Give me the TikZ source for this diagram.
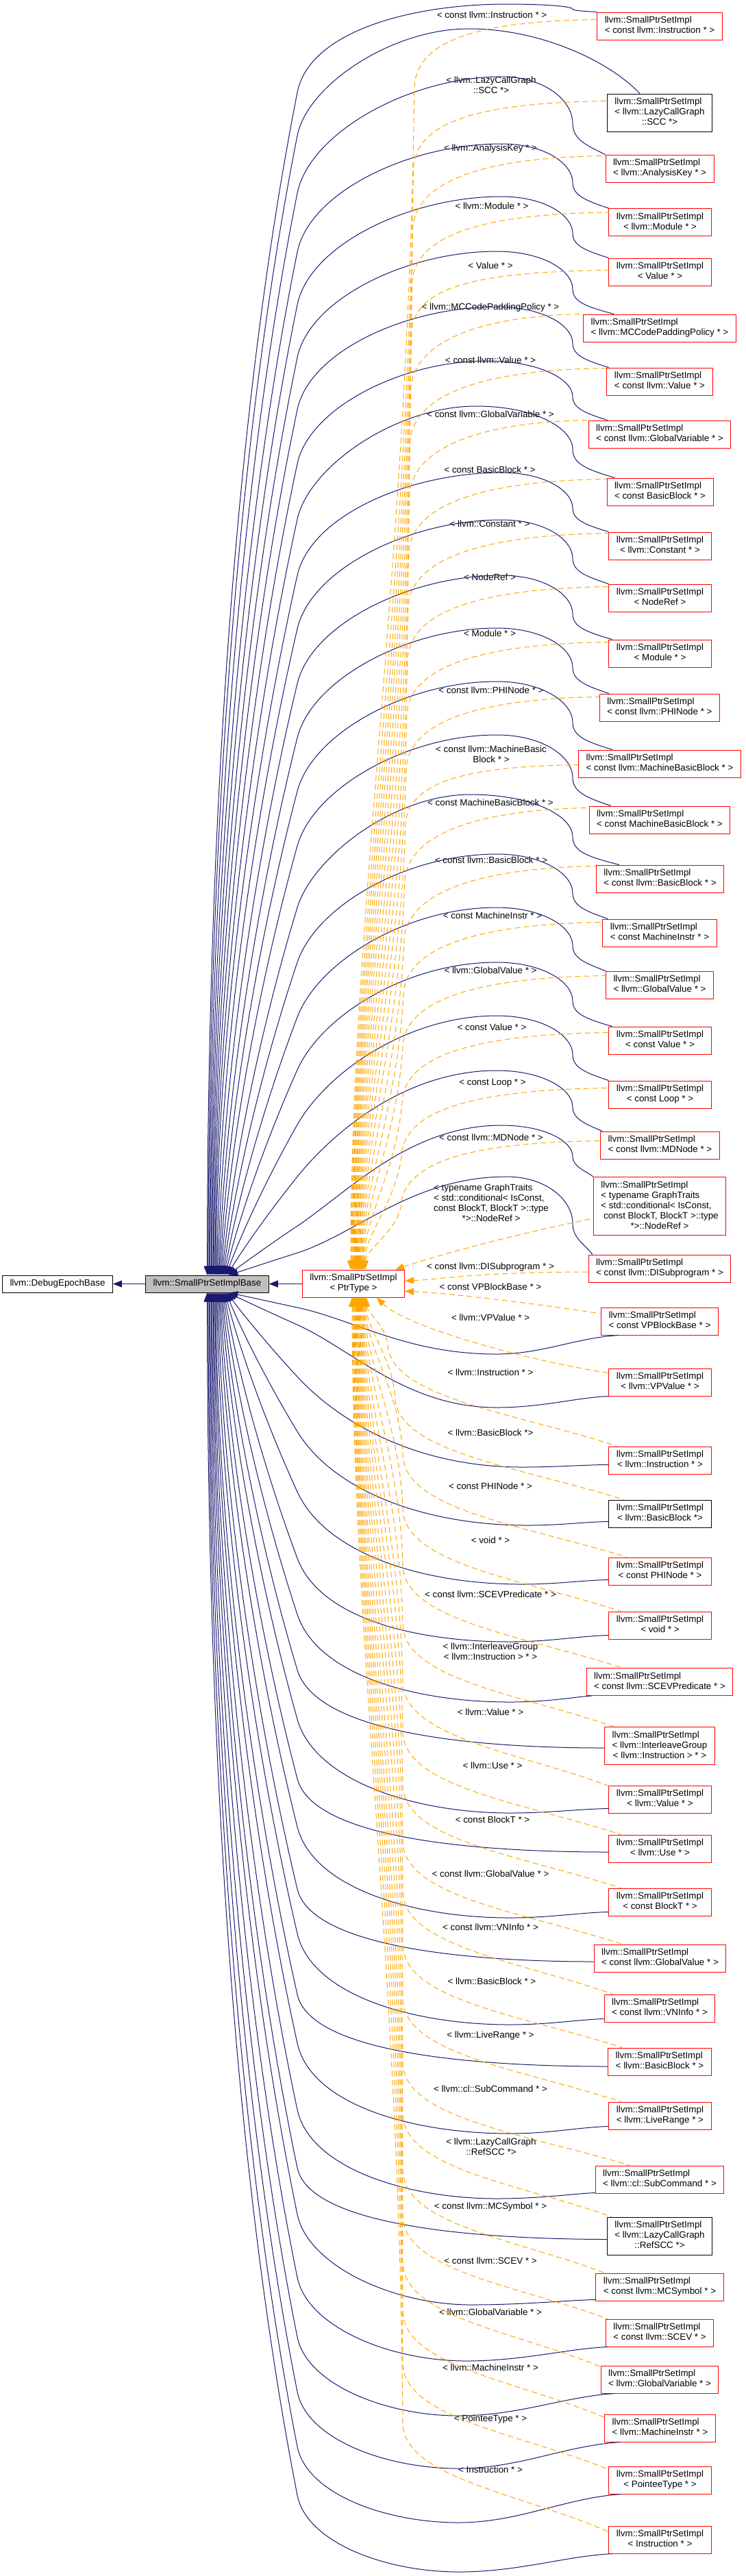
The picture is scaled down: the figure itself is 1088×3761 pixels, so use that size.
\documentclass[tikz,border=0pt]{standalone}
\usepackage{fontspec}
\setmainfont{Liberation Sans}
\usetikzlibrary{calc,arrows.meta}
\definecolor{edgeblue}{HTML}{191970}
\definecolor{edgeorange}{HTML}{FFA500}
\definecolor{boxred}{HTML}{FF0000}
\definecolor{basegray}{HTML}{BFBFBF}
\newcommand\nt[2]{\begin{tabular}{@{}l@{}}#1\\\multicolumn{1}{@{}c@{}}{#2}\end{tabular}}
\newcommand\spi{llvm::SmallPtrSetImpl}
% ---------- upper blue edges ----------
\newcommand\upprep[4]{%
  \pgfmathsetmacro\ZxB{302.5+(#1-1)*1.45}%
  \pgfmathsetmacro\ZdD{min(75,0.6*(1862-#2))}%
  \pgfmathsetmacro\ZKy{#2+\ZdD}%
  \pgfmathsetmacro\ZLv{1862-\ZKy}%
  \pgfmathsetmacro\ZLh{434-\ZxB}%
  \pgfmathsetmacro\ZhH{1+1.6*\ZLv/1740}%
  \pgfmathsetmacro\ZtN{veclen(\ZLh*\ZhH/100,\ZLv/100)}%
  \pgfmathsetmacro\ZtX{\ZLh*\ZhH/100/\ZtN}%
  \pgfmathsetmacro\ZtY{\ZLv/100/\ZtN}%
  \pgfmathsetmacro\ZlN{100*veclen(\ZLh/100,\ZLv/100)}%
  \pgfmathsetmacro\ZgG{max(0,1-\ZLv/1000)}%
  \pgfmathsetmacro\ZaX{\ZxB+0.33*\ZLh*\ZgG}%
  \pgfmathsetmacro\ZaY{1862-0.33*\ZLv}%
  \pgfmathsetmacro\ZbX{434-0.3*\ZlN*\ZtX}%
  \pgfmathsetmacro\ZbY{\ZKy+0.3*\ZlN*\ZtY}%
  \pgfmathsetmacro\ZlM{min(0.3*(#3-434),0.8*(\ZKy-#4)/\ZtY)}%
  \pgfmathsetmacro\ZcX{434+\ZlM*\ZtX}%
  \pgfmathsetmacro\ZcY{\ZKy-\ZlM*\ZtY}%
  \pgfmathsetmacro\ZdX{#3-0.45*(#3-434)}%
  \pgfmathsetmacro\ZbS{\ZxB-302.5}%
}
\newcommand\upblue[7]{%
  \upprep{#2}{#3}{#4}{#5}%
  \pgfmathsetmacro\ZeX{#4+0.6*(836-#4)}%
  \pgfmathsetmacro\ZfY{#5+0.3*(#6-#5)}%
  \pgfmathsetmacro\ZDy{#5+0.6*(#6-#5)}%
  \pgfmathsetmacro\ZgY{#5+0.8*(#6-#5)}%
  \pgfmathsetmacro\ZhY{#6-0.12*(#6-#5)}%
  \draw[bl] ($(base.north)+(\ZbS,0)$) .. controls (\ZaX,\ZaY) and (\ZbX,\ZbY) .. (434,\ZKy)
    .. controls (\ZcX,\ZcY) and (\ZdX,#5) .. (#4,#5)
    .. controls (\ZeX,#5) and (836,\ZfY) .. (836,\ZDy)
    .. controls (836,\ZgY) and (856,\ZhY) .. ($(#1.north west)+(#7,0)$);
}
% ---------- lower blue edges ----------
\newcommand\loprep[2]{%
  \pgfmathsetmacro\ZxB{334.4-#1*1.45}%
  \pgfmathsetmacro\ZdD{min(75,0.6*(#2-1887))}%
  \pgfmathsetmacro\ZKy{#2-\ZdD}%
  \pgfmathsetmacro\ZLv{\ZKy-1887}%
  \pgfmathsetmacro\ZLh{434-\ZxB}%
  \pgfmathsetmacro\ZhH{1+1.6*\ZLv/1740}%
  \pgfmathsetmacro\ZtN{veclen(\ZLh*\ZhH/100,\ZLv/100)}%
  \pgfmathsetmacro\ZtX{\ZLh*\ZhH/100/\ZtN}%
  \pgfmathsetmacro\ZtY{\ZLv/100/\ZtN}%
  \pgfmathsetmacro\ZlN{100*veclen(\ZLh/100,\ZLv/100)}%
  \pgfmathsetmacro\ZgG{max(0,1-\ZLv/1000)}%
  \pgfmathsetmacro\ZaX{\ZxB+0.33*\ZLh*\ZgG}%
  \pgfmathsetmacro\ZaY{1887+0.33*\ZLv}%
  \pgfmathsetmacro\ZbX{434-0.3*\ZlN*\ZtX}%
  \pgfmathsetmacro\ZbY{\ZKy-0.3*\ZlN*\ZtY}%
  \pgfmathsetmacro\ZbS{\ZxB-302.5}%
}
\newcommand\loblue[7]{%
  \loprep{#2}{#3}%
  \pgfmathsetmacro\ZlM{min(0.3*(#4-434),0.8*(#5-\ZKy)/\ZtY)}%
  \pgfmathsetmacro\ZcX{434+\ZlM*\ZtX}%
  \pgfmathsetmacro\ZcY{\ZKy+\ZlM*\ZtY}%
  \pgfmathsetmacro\ZdX{#4-0.45*(#4-434)}%
  \pgfmathsetmacro\ZeX{#4+0.4*(890-#4)}%
  \pgfmathsetmacro\ZfX{890-0.3*(890-#4)}%
  \pgfmathsetmacro\ZfY{#7+0.15*(#5-#7)}%
  \draw[bl] ($(base.south)+(\ZbS,0)$) .. controls (\ZaX,\ZaY) and (\ZbX,\ZbY) .. (434,\ZKy)
     .. controls (\ZcX,\ZcY) and (\ZdX,#5) .. (#4,#5)
     .. controls (\ZeX,#5) and (\ZfX,\ZfY) .. ($(#1.south west)+(#6)$);
}
\newcommand\loflat[5]{%
  \loprep{#2}{#3}%
  \pgfmathsetmacro\ZlM{min(0.3*(890-434),0.8*(#5-\ZKy)/\ZtY)}%
  \pgfmathsetmacro\ZcX{434+\ZlM*\ZtX}%
  \pgfmathsetmacro\ZcY{\ZKy+\ZlM*\ZtY}%
  \draw[bl] ($(base.south)+(\ZbS,0)$) .. controls (\ZaX,\ZaY) and (\ZbX,\ZbY) .. (434,\ZKy)
     .. controls (\ZcX,\ZcY) and (685,#5) .. ($(#1.west)+(#4)$);
}
% ---------- orange dashed edges ----------
\newcommand\upor[4]{%
  \pgfmathsetmacro\ZxE{512+(#2-1)*1.05}%
  \pgfmathsetmacro\ZvX{605-0.012*#3}%
  \pgfmathsetmacro\ZvY{#3+110}%
  \pgfmathsetmacro\ZsS{\ZxE-516}%
  \pgfmathsetmacro\ZpA{1854-0.3*(1854-\ZvY)}%
  \pgfmathsetmacro\ZpB{\ZvY+0.4*(1854-\ZvY)}%
  \pgfmathsetmacro\ZpC{\ZvX-8}%
  \pgfmathsetmacro\ZqX{\ZvX+3}%
  \pgfmathsetmacro\ZqY{#3+40}%
  \pgfmathsetmacro\ZrY{#3+#4+2}%
  \draw[orl] ($(ptr.north)+(\ZsS,0)$) .. controls (\ZxE,\ZpA) and (\ZpC,\ZpB) .. (\ZvX,\ZvY)
     .. controls (\ZqX,\ZqY) and (700,\ZrY) .. ($(#1.north west)+(0,#4)$);
}
\newcommand\loor[4]{%
  \pgfmathsetmacro\ZxE{535-#2*1.05}%
  \pgfmathsetmacro\ZvX{588-22*max(0,1-(#3-2112)/160)}%
  \pgfmathsetmacro\ZvY{#3-150}%
  \pgfmathsetmacro\ZsS{\ZxE-516}%
  \pgfmathsetmacro\ZpA{1894+0.3*(\ZvY-1894)}%
  \pgfmathsetmacro\ZpB{\ZvY-0.4*(\ZvY-1894)}%
  \pgfmathsetmacro\ZpC{\ZvX-4}%
  \pgfmathsetmacro\ZqX{\ZvX+2}%
  \pgfmathsetmacro\ZqY{#3-70}%
  \pgfmathsetmacro\ZrY{#3-48}%
  \draw[orl] ($(ptr.south)+(\ZsS,0)$) .. controls (\ZxE,\ZpA) and (\ZpC,\ZpB) .. (\ZvX,\ZvY)
     .. controls (\ZqX,\ZqY) and (760,\ZrY) .. ($(#1.north west)+(#4)$);
}
\begin{document}
\begin{tikzpicture}[x=1pt,y=-1pt,
  every node/.style={font=\fontsize{13.37}{15}\selectfont},
  cls/.style={draw=boxred, fill=white, line width=1pt, inner xsep=11pt, inner ysep=5pt},
  clsd/.style={draw=black, fill=white, line width=1pt, inner xsep=11pt, inner ysep=5pt},
  lbl/.style={inner sep=0pt},
  bl/.style={draw=edgeblue, line width=1pt, arrows={Triangle[length=13pt,width=10pt]-}},
  orl/.style={draw=edgeorange, line width=1pt, dash pattern=on 8pt off 5pt, arrows={Triangle[length=13pt,width=10pt]-}}]
\fill[white] (0,0) rectangle (1088,3761);
\useasboundingbox (0,0) rectangle (1088,3761);
% ---------- main nodes ----------
\node[clsd] (deb) at (84,1874.5) {\strut llvm::DebugEpochBase};
\node[clsd, fill=basegray] (base) at (302.5,1874.5) {\strut llvm::SmallPtrSetImplBase};
\node[cls] (ptr) at (516,1874) {\nt{\spi}{< PtrType >}};
% ---------- right column ----------
\node[cls] (n1) at (963,38) {\nt{\spi}{< const llvm::Instruction * >}};
\node[clsd] (n2) at (963,164.5) {\nt{\spi\\< llvm::LazyCallGraph}{::SCC *>}};
\node[cls] (n3) at (963,246) {\nt{\spi}{< llvm::AnalysisKey * >}};
\node[cls] (n4) at (963.5,324.5) {\nt{\spi}{< llvm::Module * >}};
\node[cls] (n5) at (963.5,397) {\nt{\spi}{< Value * >}};
\node[cls] (n6) at (963,479) {\nt{\spi}{< llvm::MCCodePaddingPolicy * >}};
\node[cls] (n7) at (963,557) {\nt{\spi}{< const llvm::Value * >}};
\node[cls] (n8) at (963,634) {\nt{\spi}{< const llvm::GlobalVariable * >}};
\node[cls] (n9) at (963.5,718) {\nt{\spi}{< const BasicBlock * >}};
\node[cls] (n10) at (963.5,797) {\nt{\spi}{< llvm::Constant * >}};
\node[cls] (n11) at (963.5,873) {\nt{\spi}{< NodeRef >}};
\node[cls] (n12) at (963.5,954) {\nt{\spi}{< Module * >}};
\node[cls] (n13) at (963,1033) {\nt{\spi}{< const llvm::PHINode * >}};
\node[cls] (n14) at (963,1115) {\nt{\spi}{< const llvm::MachineBasicBlock * >}};
\node[cls] (n15) at (963,1197) {\nt{\spi}{< const MachineBasicBlock * >}};
\node[cls] (n16) at (963.5,1283) {\nt{\spi}{< const llvm::BasicBlock * >}};
\node[cls] (n17) at (963,1362) {\nt{\spi}{< const MachineInstr * >}};
\node[cls] (n18) at (963,1438) {\nt{\spi}{< llvm::GlobalValue * >}};
\node[cls] (n19) at (963.5,1519) {\nt{\spi}{< const Value * >}};
\node[cls] (n20) at (963.5,1598) {\nt{\spi}{< const Loop * >}};
\node[cls] (n21) at (963.5,1672) {\nt{\spi}{< const llvm::MDNode * >}};
\node[cls] (n22) at (963,1761) {\nt{\spi\\< typename GraphTraits\\< std::conditional< IsConst,\\\ const BlockT, BlockT >::type}{*>::NodeRef >}};
\node[cls] (n23) at (963,1852) {\nt{\spi}{< const llvm::DISubprogram * >}};
\node[cls] (n24) at (963,1929) {\nt{\spi}{< const VPBlockBase * >}};
\node[cls] (n25) at (963.5,2018) {\nt{\spi}{< llvm::VPValue * >}};
\node[cls] (n26) at (963.5,2132) {\nt{\spi}{< llvm::Instruction * >}};
\node[clsd] (n27) at (963.5,2210) {\nt{\spi}{< llvm::BasicBlock *>}};
\node[cls] (n28) at (963.5,2294) {\nt{\spi}{< const PHINode * >}};
\node[cls] (n29) at (963.5,2373) {\nt{\spi}{< void * >}};
\node[cls] (n30) at (963,2455.5) {\nt{\spi}{< const llvm::SCEVPredicate * >}};
\node[cls] (n31) at (963,2549) {\nt{\spi\\< llvm::InterleaveGroup}{< llvm::Instruction > * >}};
\node[cls] (n32) at (963.5,2627) {\nt{\spi}{< llvm::Value * >}};
\node[cls] (n33) at (963.5,2699) {\nt{\spi}{< llvm::Use * >}};
\node[cls] (n34) at (963.5,2777) {\nt{\spi}{< const BlockT * >}};
\node[cls] (n35) at (963.5,2859) {\nt{\spi}{< const llvm::GlobalValue * >}};
\node[cls] (n36) at (963,2932) {\nt{\spi}{< const llvm::VNInfo * >}};
\node[cls] (n37) at (963,3010) {\nt{\spi}{< llvm::BasicBlock * >}};
\node[cls] (n38) at (963.5,3089) {\nt{\spi}{< llvm::LiveRange * >}};
\node[cls] (n39) at (963,3182) {\nt{\spi}{< llvm::cl::SubCommand * >}};
\node[clsd] (n40) at (963,3264.5) {\nt{\spi\\< llvm::LazyCallGraph}{::RefSCC *>}};
\node[cls] (n41) at (963,3339) {\nt{\spi}{< const llvm::MCSymbol * >}};
\node[cls] (n42) at (963,3406) {\nt{\spi}{< const llvm::SCEV * >}};
\node[cls] (n43) at (963,3474) {\nt{\spi}{< llvm::GlobalVariable * >}};
\node[cls] (n44) at (963.5,3545) {\nt{\spi}{< llvm::MachineInstr * >}};
\node[cls] (n45) at (963.5,3621) {\nt{\spi}{< PointeeType * >}};
\node[cls] (n46) at (963.5,3708) {\nt{\spi}{< Instruction * >}};
% ---------- edge labels ----------
\node[lbl] (l1) at (718,22) {< const llvm::Instruction * >};
\node[lbl] (l2) at (717,126) {\nt{< llvm::LazyCallGraph}{::SCC *>}};
\node[lbl] (l3) at (716,217) {< llvm::AnalysisKey * >};
\node[lbl] (l4) at (718,301) {< llvm::Module * >};
\node[lbl] (l5) at (716,388) {< Value * >};
\node[lbl] (l6) at (716,449) {< llvm::MCCodePaddingPolicy * >};
\node[lbl] (l7) at (716,526) {< const llvm::Value * >};
\node[lbl] (l8) at (716,605) {< const llvm::GlobalVariable * >};
\node[lbl] (l9) at (715,686) {< const BasicBlock * >};
\node[lbl] (l10) at (715,765) {< llvm::Constant * >};
\node[lbl] (l11) at (715,843) {< NodeRef >};
\node[lbl] (l12) at (715,925) {< Module * >};
\node[lbl] (l13) at (717,1008) {< const llvm::PHINode * >};
\node[lbl] (l14) at (717,1103) {\nt{< const llvm::MachineBasic}{Block * >}};
\node[lbl] (l15) at (716,1172) {< const MachineBasicBlock * >};
\node[lbl] (l16) at (717,1256) {< const llvm::BasicBlock * >};
\node[lbl] (l17) at (719,1337) {< const MachineInstr * >};
\node[lbl] (l18) at (716,1417) {< llvm::GlobalValue * >};
\node[lbl] (l19) at (718,1500) {< const Value * >};
\node[lbl] (l20) at (719,1581) {< const Loop * >};
\node[lbl] (l21) at (717,1661) {< const llvm::MDNode * >};
\node[lbl] (l22) at (717,1758) {\nt{< typename GraphTraits\\< std::conditional< IsConst,\\const BlockT, BlockT >::type}{*>::NodeRef >}};
\node[lbl] (l23) at (716,1850) {< const llvm::DISubprogram * >};
\node[lbl] (l24) at (716,1879) {< const VPBlockBase * >};
\node[lbl] (l25) at (716,1924) {< llvm::VPValue * >};
\node[lbl] (l26) at (716,2004) {< llvm::Instruction * >};
\node[lbl] (l27) at (716,2092) {< llvm::BasicBlock *>};
\node[lbl] (l28) at (716,2170) {< const PHINode * >};
\node[lbl] (l29) at (716,2249) {< void * >};
\node[lbl] (l30) at (716,2328) {< const llvm::SCEVPredicate * >};
\node[lbl] (l31) at (716,2413) {\nt{< llvm::InterleaveGroup}{< llvm::Instruction > * >}};
\node[lbl] (l32) at (716,2500) {< llvm::Value * >};
\node[lbl] (l33) at (719,2578) {< llvm::Use * >};
\node[lbl] (l34) at (719,2657) {< const BlockT * >};
\node[lbl] (l35) at (716,2736) {< const llvm::GlobalValue * >};
\node[lbl] (l36) at (716,2814) {< const llvm::VNInfo * >};
\node[lbl] (l37) at (718,2893) {< llvm::BasicBlock * >};
\node[lbl] (l38) at (716,2972) {< llvm::LiveRange * >};
\node[lbl] (l39) at (716,3050) {< llvm::cl::SubCommand * >};
\node[lbl] (l40) at (717,3136) {\nt{< llvm::LazyCallGraph}{::RefSCC *>}};
\node[lbl] (l41) at (716,3222) {< const llvm::MCSymbol * >};
\node[lbl] (l42) at (716,3301) {< const llvm::SCEV * >};
\node[lbl] (l43) at (716,3376) {< llvm::GlobalVariable * >};
\node[lbl] (l44) at (716,3457) {< llvm::MachineInstr * >};
\node[lbl] (l45) at (716,3532) {< PointeeType * >};
\node[lbl] (l46) at (716,3606) {< Instruction * >};
% ---------- main edges ----------
\draw[bl] (deb.east) -- (base.west);
\draw[bl] (base.east) -- (base.east -| ptr.west);
% ---------- upper blue ----------
\upblue{n1}{1}{60}{740}{6}{18}{0}
\upprep{2}{123}{684}{42}
\draw[bl] ($(base.north)+(\ZbS,0)$) .. controls (\ZaX,\ZaY) and (\ZbX,\ZbY) .. (434,\ZKy)
  .. controls (\ZcX,\ZcY) and (\ZdX,42) .. (684,42) .. controls (790,42) and (890,90) .. ($(n2.north west)+(48,0)$);
\upblue{n3}{3}{207}{732}{112}{226}{0}
\upblue{n4}{4}{293}{732}{210}{304.5}{0}
\upblue{n5}{5}{370}{732}{287}{377}{0}
\upblue{n6}{6}{447}{725}{367}{459}{45}
\upblue{n7}{7}{523}{725}{448}{537}{3}
\upblue{n8}{8}{602}{710}{527}{614}{28}
\upblue{n9}{9}{683}{695}{593}{698}{12}
\upblue{n10}{10}{765}{732}{690}{777}{0}
\upblue{n11}{11}{843}{732}{759}{853}{0}
\upblue{n12}{12}{923}{732}{840}{934}{5}
\upblue{n13}{13}{1002}{725}{917}{1013}{14}
\upblue{n14}{14}{1080}{725}{995}{1095}{50}
\upblue{n15}{15}{1160}{725}{1073}{1177}{32}
\upblue{n16}{16}{1250}{687}{1160}{1263}{34}
\upblue{n17}{17}{1330}{725}{1247}{1342}{8}
\upblue{n18}{18}{1410}{725}{1325}{1418}{0}
\upblue{n19}{19}{1487}{725}{1405}{1499}{5}
\upblue{n20}{20}{1567}{725}{1483}{1578}{0}
\upblue{n21}{21}{1643}{725}{1563}{1652}{3}
\upblue{n22}{22}{1715}{732}{1643}{1719}{0}
\upblue{n23}{23}{1780}{740}{1718}{1832}{6}
% ---------- lower blue ----------
\loblue{n24}{0}{1942}{725}{1977}{26,0}{1949}
\loblue{n25}{1}{2005}{725}{2055}{0,0}{2038}
\loblue{n26}{2}{2085}{762}{2142}{0,-14}{2138}
\loblue{n27}{3}{2165}{770}{2227}{0,-9}{2221}
\loblue{n28}{4}{2253}{762}{2313}{0,-8}{2306}
\loblue{n29}{5}{2350}{744}{2397}{0,-6}{2387}
\loblue{n30}{6}{2432}{744}{2485}{8,0}{2475}
\loflat{n31}{7}{2513}{0,3}{2552}
\loblue{n32}{8}{2585}{744}{2647}{0,-7}{2640}
\loflat{n33}{9}{2672}{0,5}{2704}
\loblue{n34}{10}{2742}{744}{2800}{0,-6}{2791}
\loflat{n35}{11}{2833}{0,5}{2864}
\loblue{n36}{12}{2898}{744}{2956}{0,-5}{2947}
\loflat{n37}{13}{2987}{0,7}{3017}
\loblue{n38}{14}{3058}{744}{3115}{0,-5}{3104}
\loblue{n39}{15}{3155}{725}{3210}{0,-1}{3201}
\loflat{n40}{16}{3240}{0,5}{3269}
\loblue{n41}{17}{3308}{687}{3365}{0,-2}{3357}
\loblue{n42}{18}{3400}{680}{3447}{3,0}{3426}
\loblue{n43}{19}{3487}{669}{3527}{21,0}{3494}
\loblue{n44}{20}{3567}{669}{3604}{23,0}{3565}
\loblue{n45}{21}{3647}{669}{3683}{18,0}{3641}
\loblue{n46}{22}{3718}{669}{3755}{5,0}{3728}
% ---------- upper orange ----------
\upor{n1}{1}{18}{11}
\upor{n2}{2}{137}{11}
\upor{n3}{3}{226}{2}
\upor{n4}{4}{304.5}{6}
\upor{n5}{5}{377}{18}
\upor{n6}{6}{459}{0}
\upor{n7}{7}{537}{1}
\upor{n8}{8}{614}{0}
\upor{n9}{9}{698}{2}
\upor{n10}{10}{777}{2}
\upor{n11}{11}{853}{4}
\upor{n12}{12}{934}{4}
\upor{n13}{13}{1013}{5}
\upor{n14}{14}{1095}{22}
\upor{n15}{15}{1177}{3}
\upor{n16}{16}{1263}{2}
\upor{n17}{17}{1342}{5}
\upor{n18}{18}{1418}{7}
\upor{n19}{19}{1499}{9}
\upor{n20}{20}{1578}{11}
\upor{n21}{21}{1652}{14}
\draw[orl] ($(ptr.north east)+(-14,0)$) .. controls (640,1832) and (760,1800) .. ($(n22.west)+(0,18)$);
\draw[orl] ($(ptr.east)+(0,-4)$) .. controls (640,1868) and (700,1857) .. ($(n23.west)+(0,5)$);
\draw[orl] ($(ptr.east)+(0,11)$) .. controls (650,1888) and (760,1900) .. ($(n24.west)+(0,-11)$);
\draw[orl] ($(ptr.south)+(34,0)$) .. controls (590,1935) and (760,1985) .. ($(n25.north west)+(0,7)$);
% ---------- lower orange ----------
\loor{n26}{0}{2112}{12,0}
\loor{n27}{1}{2190}{22,0}
\loor{n28}{2}{2274}{27,0}
\loor{n29}{3}{2353}{18,0}
\loor{n30}{4}{2435.5}{53,0}
\loor{n31}{5}{2522}{14,0}
\loor{n32}{6}{2607}{0,1}
\loor{n33}{7}{2679}{18,0}
\loor{n34}{8}{2757}{18,0}
\loor{n35}{9}{2839}{42,0}
\loor{n36}{10}{2912}{13,0}
\loor{n37}{11}{2990}{21,0}
\loor{n38}{12}{3069}{18,0}
\loor{n39}{13}{3162}{51,0}
\loor{n40}{14}{3237}{7,0}
\loor{n41}{15}{3319}{13,0}
\loor{n42}{16}{3386}{3,0}
\loor{n43}{17}{3454}{0,2}
\loor{n44}{18}{3525}{0,5}
\loor{n45}{19}{3601}{0,5}
\loor{n46}{20}{3688}{0,9}
\end{tikzpicture}
\end{document}
